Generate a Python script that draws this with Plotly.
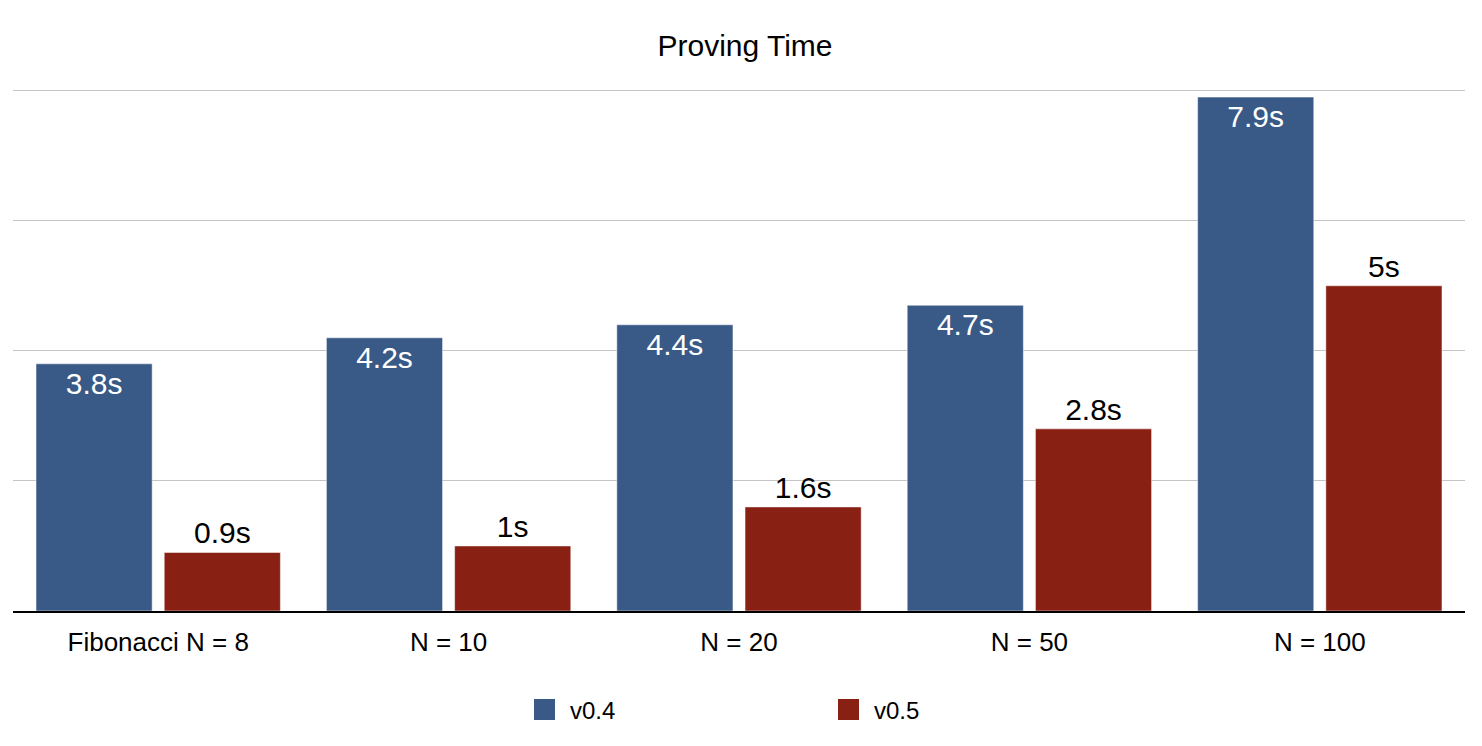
import plotly.graph_objects as go

categories = ["Fibonacci N = 8", "N = 10", "N = 20", "N = 50", "N = 100"]
v04_seconds = [3.8, 4.2, 4.4, 4.7, 7.9]
v05_seconds = [0.9, 1.0, 1.6, 2.8, 5.0]

blue = "#395986"
red = "#882013"
font_family = "Liberation Sans, Arial, Helvetica, sans-serif"

# the page body has an 8px margin, so the figure is a bit smaller than the window
W, H = 1474, 738


def fmt(v):
    return f"{v:g}s"


fig = go.Figure()

fig.add_trace(
    go.Bar(
        x=categories,
        y=v04_seconds,
        name="v0.4",
        marker_color=blue,
        text=[fmt(v) for v in v04_seconds],
        textposition="inside",
        insidetextanchor="end",
        insidetextfont=dict(color="white", size=30, family=font_family),
        showlegend=False,
    )
)
fig.add_trace(
    go.Bar(
        x=categories,
        y=v05_seconds,
        name="v0.5",
        marker_color=red,
        text=[fmt(v) for v in v05_seconds],
        textposition="outside",
        outsidetextfont=dict(color="black", size=30, family=font_family),
        cliponaxis=False,
        showlegend=False,
    )
)

# legend proxies with big square swatches
for name, color in [("v0.4", blue), ("v0.5", red)]:
    fig.add_trace(
        go.Scatter(
            x=[None],
            y=[None],
            mode="markers",
            name=name,
            marker=dict(symbol="square", size=16, color=color,
                        line=dict(color=color, width=5)),
        )
    )

fig.update_layout(
    width=W,
    height=H,
    template="simple_white",
    font=dict(family=font_family, color="black", size=24),
    title=dict(
        text="Proving Time",
        x=0.5,
        xanchor="center",
        y=1 - 37 / H,
        yref="container",
        yanchor="middle",
        font=dict(size=30, color="black"),
    ),
    margin=dict(l=5, r=17, t=80, b=135),
    barmode="group",
    bargap=0.117,
    bargroupgap=0.094,
    plot_bgcolor="white",
    paper_bgcolor="white",
    legend=dict(
        orientation="h",
        xref="container",
        yref="container",
        x=511 / W,
        xanchor="left",
        y=1 - 702 / H,
        yanchor="middle",
        entrywidth=248,
        itemwidth=41,
        itemsizing="trace",
        font=dict(size=24),
    ),
)

fig.update_xaxes(
    showline=True,
    linecolor="black",
    linewidth=2,
    ticks="",
    showgrid=False,
    tickfont=dict(size=26),
    ticklabelstandoff=7,
)
fig.update_yaxes(
    range=[0, 8.04],
    dtick=2,
    showgrid=True,
    gridcolor="#c4c4c4",
    gridwidth=1,
    showline=False,
    ticks="",
    showticklabels=False,
    zeroline=False,
)

fig.write_html("out.html")
